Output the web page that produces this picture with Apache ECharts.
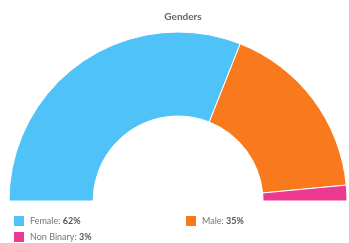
<!DOCTYPE html>
<html>
<head>
<meta charset="utf-8">
<script src="https://cdn.jsdelivr.net/npm/echarts@6/dist/echarts.min.js"></script>
<style>
  html, body { margin: 0; padding: 0; background: #fff; }
  #chart { width: 349px; height: 243px; }
</style>
</head>
<body>
<div id="chart"></div>
<script>
// data
const categories = ["Female", "Male", "Non Binary"];
const values = [62, 35, 3];
const colors = ["#4fc3f7", "#f97a1c", "#ec3a93"];

const pieData = categories.map((name, i) => ({
  name: name,
  value: values[i],
  itemStyle: { color: colors[i] }
}));

//图例文字: 名称普通, 百分比加粗
function legendText(name) {
  const i = categories.indexOf(name);
  return "{n|" + name + ": }{v|" + values[i] + "%}";
}

//每个图例单独放置 (两列布局)
function legendItem(name, left, top) {
  return {
    data: [name],
    left: left,
    top: top,
    padding: 0,
    icon: "rect",
    itemWidth: 12,
    itemHeight: 12,
    itemGap: 4,
    selectedMode: false,
    formatter: legendText,
    textStyle: {
      rich: {
        n: { fontSize: 9, color: "#777", fontFamily: "Lato" },
        v: { fontSize: 9, color: "#555", fontWeight: "bold", fontFamily: "Lato" }
      }
    }
  };
}

const chart = echarts.init(document.getElementById("chart"));
chart.setOption({
  animation: false,
  title: {
    text: "Genders",
    left: 178,
    textAlign: "center",
    top: 7,
    textStyle: { fontSize: 10, fontWeight: "bold", color: "#666", fontFamily: "Lato" }
  },
  legend: [
    legendItem("Female", 12, 214),
    legendItem("Male", 184, 214),
    legendItem("Non Binary", 12, 230)
  ],
  series: [
    {
      type: "pie",
      center: [178, 201],
      radius: [85, 169],
      startAngle: 180,
      endAngle: 0,
      label: { show: false },
      labelLine: { show: false },
      itemStyle: { borderColor: "#fff", borderWidth: 1 },
      emphasis: { disabled: true },
      data: pieData
    }
  ]
});
</script>
</body>
</html>
